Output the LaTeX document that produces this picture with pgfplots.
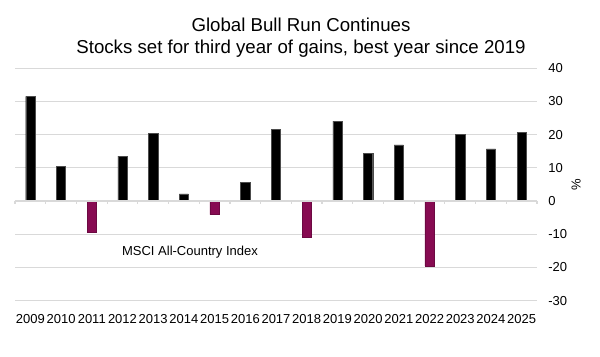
\documentclass[border=0pt]{standalone}
\usepackage{pgfplots}
\pgfplotsset{compat=1.18}
\usepackage{fontspec}
\setmainfont{Liberation Sans}
\definecolor{gridgrey}{HTML}{D9D9D9}
\definecolor{negbar}{HTML}{870B52}
\begin{document}
\begin{tikzpicture}
\path[use as bounding box] (-11.25pt,-42.2pt) rectangle (438.75pt,225.5pt);
\begin{axis}[
  at={(0,0)}, anchor=south west,
  scale only axis, width=391.5pt, height=174.3pt,
  xmin=-0.5, xmax=16.5, ymin=-30, ymax=40,
  xtick={0,...,16},
  xticklabels={2009,2010,2011,2012,2013,2014,2015,2016,2017,2018,2019,2020,2021,2022,2023,2024,2025},
  ytick={-30,-20,...,40},
  yticklabel pos=right,
  axis line style={draw=none},
  major tick length=0pt,
  ymajorgrids, grid style={gridgrey, line width=0.9pt},
  tick label style={font=\fontsize{9.75}{11}\selectfont},
  /pgf/number format/assume math mode=true,
  xticklabel style={yshift=-7pt},
  yticklabel style={xshift=5pt, anchor=west},
  clip=false,
]
\addplot[ybar, bar width=0.3, bar shift=0pt, fill=black, draw=black!70, line width=0.3pt] coordinates {
(0,31.5) (1,10.5) (3,13.5) (4,20.3) (5,2.2) (7,5.7) (8,21.6)
(10,24.1) (11,14.4) (12,16.9) (14,20.1) (15,15.7) (16,20.7)};
\addplot[ybar, bar width=0.3, bar shift=0pt, fill=negbar, draw=negbar!80!black, line width=0.3pt] coordinates {
(2,-9.3) (6,-4.1) (9,-11.0) (13,-19.5)};
\draw[gridgrey, line width=0.9pt] (axis cs:-0.5,0) -- (axis cs:16.5,0);
\pgfplotsinvokeforeach{-0.5,0.5,...,16.5}{\draw[gridgrey, line width=0.9pt] (axis cs:#1,0) -- (axis cs:#1,-0.9);}
\node[font=\fontsize{9.75}{11}\selectfont] at (axis cs:5.2,-15.4) {MSCI All-Country Index};
\node[font=\fontsize{9.75}{11}\selectfont, rotate=90] at (rel axis cs:1.075,0.5) {\%};
\end{axis}
\node[anchor=base, font=\fontsize{14}{16}\selectfont] at (214.5pt,201.5pt) {Global Bull Run Continues};
\node[anchor=base, font=\fontsize{14}{16}\selectfont] at (214.5pt,185.3pt) {Stocks set for third year of gains, best year since 2019};
\end{tikzpicture}
\end{document}
